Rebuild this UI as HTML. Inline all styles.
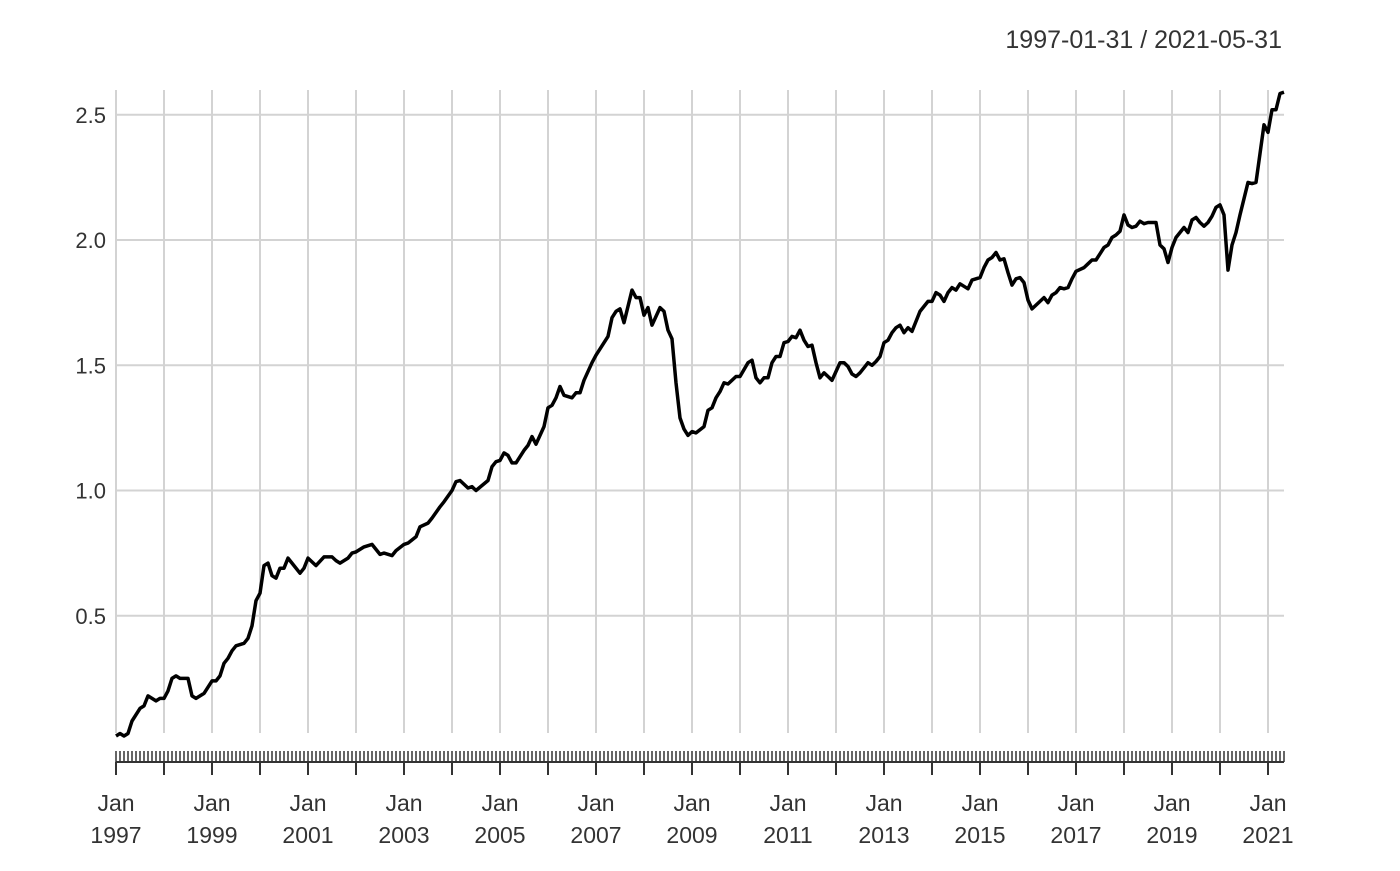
<!DOCTYPE html>
<html><head><meta charset="utf-8"><style>
body{margin:0;background:#fff;}
svg text{font-family:"Liberation Sans","DejaVu Sans",sans-serif;fill:#333;}
</style></head><body>
<svg id="chart" width="1400" height="866" xmlns="http://www.w3.org/2000/svg">
<text x="1282" y="48" font-size="25" text-anchor="end">1997-01-31 / 2021-05-31</text>
<g id="grid"></g>
<g id="yaxis"></g>
<g id="xaxis"></g>
<path id="line" fill="none" stroke="#000" stroke-width="3.5" stroke-linejoin="round"></path>
</svg>
<script>
const monthIdx=[0,1,2,3,4,6,7,8,9,10,11,12,13,14,15,16,18,19,20,22,24,25,26,27,28,29,30,32,33,34,35,36,37,38,39,40,41,42,43,44,46,47,48,50,52,54,55,56,58,59,60,62,64,66,67,69,70,72,73,75,76,78,79,81,82,84,85,86,88,89,90,93,94,95,96,97,98,99,100,102,103,104,105,107,108,109,110,111,112,114,115,116,117,119,120,122,123,124,125,126,127,129,130,131,132,133,134,136,137,138,139,140,141,142,143,144,145,147,148,149,150,151,152,153,155,156,158,159,160,161,162,163,164,165,166,167,168,169,170,171,172,173,174,175,176,177,178,179,180,181,182,183,184,185,186,187,188,189,190,191,192,193,194,195,196,197,198,199,200,201,203,204,205,206,207,208,209,210,211,212,213,214,216,217,218,219,220,221,222,223,224,225,226,227,228,229,230,231,232,233,234,235,236,237,238,239,240,242,243,244,245,246,247,248,249,250,251,252,253,254,255,256,257,258,259,260,261,262,263,264,265,266,267,268,269,270,271,272,273,274,275,276,277,278,279,280,281,282,283,284,285,286,287,288,289,290,291,292];
const values=[0.02,0.03,0.02,0.03,0.08,0.13,0.14,0.18,0.17,0.16,0.17,0.17,0.20,0.25,0.26,0.25,0.25,0.18,0.17,0.19,0.24,0.24,0.26,0.31,0.33,0.36,0.38,0.39,0.41,0.46,0.56,0.59,0.70,0.71,0.66,0.65,0.69,0.69,0.73,0.71,0.67,0.69,0.73,0.70,0.735,0.735,0.72,0.71,0.73,0.75,0.755,0.775,0.785,0.745,0.75,0.74,0.76,0.785,0.79,0.815,0.855,0.87,0.89,0.935,0.955,1.0,1.035,1.04,1.01,1.015,1.0,1.04,1.095,1.115,1.12,1.15,1.14,1.11,1.11,1.16,1.18,1.215,1.185,1.255,1.33,1.34,1.37,1.415,1.38,1.37,1.39,1.39,1.44,1.51,1.54,1.59,1.615,1.69,1.715,1.725,1.67,1.80,1.77,1.77,1.70,1.73,1.66,1.73,1.715,1.64,1.605,1.43,1.29,1.245,1.22,1.235,1.23,1.255,1.32,1.33,1.37,1.395,1.43,1.425,1.455,1.455,1.51,1.52,1.45,1.43,1.45,1.45,1.51,1.535,1.535,1.59,1.595,1.615,1.61,1.64,1.60,1.575,1.58,1.51,1.45,1.47,1.455,1.44,1.475,1.51,1.51,1.495,1.465,1.455,1.47,1.49,1.51,1.50,1.515,1.535,1.59,1.60,1.63,1.65,1.66,1.63,1.65,1.635,1.675,1.715,1.755,1.755,1.79,1.78,1.755,1.79,1.81,1.80,1.825,1.815,1.805,1.84,1.85,1.89,1.92,1.93,1.95,1.92,1.925,1.87,1.82,1.845,1.85,1.83,1.76,1.725,1.74,1.755,1.77,1.75,1.78,1.79,1.81,1.805,1.81,1.845,1.875,1.89,1.905,1.92,1.92,1.945,1.97,1.98,2.01,2.02,2.035,2.10,2.06,2.05,2.055,2.075,2.065,2.07,2.07,2.07,1.98,1.965,1.91,1.97,2.01,2.03,2.05,2.03,2.08,2.09,2.07,2.055,2.07,2.095,2.13,2.14,2.10,1.88,1.98,2.03,2.10,2.165,2.23,2.225,2.23,2.345,2.46,2.43,2.52,2.52,2.585,2.59];
const yTicks=[0.5,1.0,1.5,2.0,2.5];
const yTickLabels=["0.5","1.0","1.5","2.0","2.5"];
const years=[1997,1998,1999,2000,2001,2002,2003,2004,2005,2006,2007,2008,2009,2010,2011,2012,2013,2014,2015,2016,2017,2018,2019,2020,2021];
const totalMonths=293;

const X0=116,PXM=4,Y0=741,PXV=250.5,TOP=90,BOT=733,RIGHT=1284;
function xs(m){return X0+m*PXM;}
function ys(v){return Y0-v*PXV;}
const NS="http://www.w3.org/2000/svg";
function mk(tag,attrs,parent){const e=document.createElementNS(NS,tag);for(const k in attrs)e.setAttribute(k,attrs[k]);parent.appendChild(e);return e;}
const grid=document.getElementById('grid'),yax=document.getElementById('yaxis'),xax=document.getElementById('xaxis');
yTicks.forEach((v,i)=>{
  const l=mk('line',{x1:X0,x2:RIGHT,y1:ys(v),y2:ys(v),stroke:'#d3d3d3','stroke-width':2},grid);
  
  
  const t=mk('text',{x:106,y:ys(v)+8,'font-size':22,'text-anchor':'end'},yax);
  
  
  t.textContent=yTickLabels[i];
});
years.forEach((yr,i)=>{
  const x=xs((yr-1997)*12);
  const l=mk('line',{x1:x,x2:x,y1:TOP,y2:BOT,stroke:'#d3d3d3','stroke-width':2},grid);
  
  
  const tk=mk('line',{x1:x,x2:x,y1:762,y2:775,stroke:'#333','stroke-width':2},xax);
  
  
  if(i%2===0){
    const t1=mk('text',{x:x,y:811,'font-size':23,'text-anchor':'middle'},xax);
    
    
    t1.textContent='Jan';
    const t2=mk('text',{x:x,y:843,'font-size':23,'text-anchor':'middle'},xax);
    
    
    t2.textContent=String(yr);
  }
});
const ax=mk('line',{x1:X0,x2:xs(totalMonths-1),y1:762,y2:762,stroke:'#333','stroke-width':2},xax);


let d='';
for(let m=0;m<totalMonths;m++){d+='M'+xs(m)+' 751V762';}
const mt=mk('path',{d:d,stroke:'#333','stroke-width':1.5},xax);


let p='';
values.forEach((v,i)=>{p+=(i?'L':'M')+xs(monthIdx[i]).toFixed(1)+' '+ys(v).toFixed(1);});
document.getElementById('line').setAttribute('d',p);
</script>
</body></html>
